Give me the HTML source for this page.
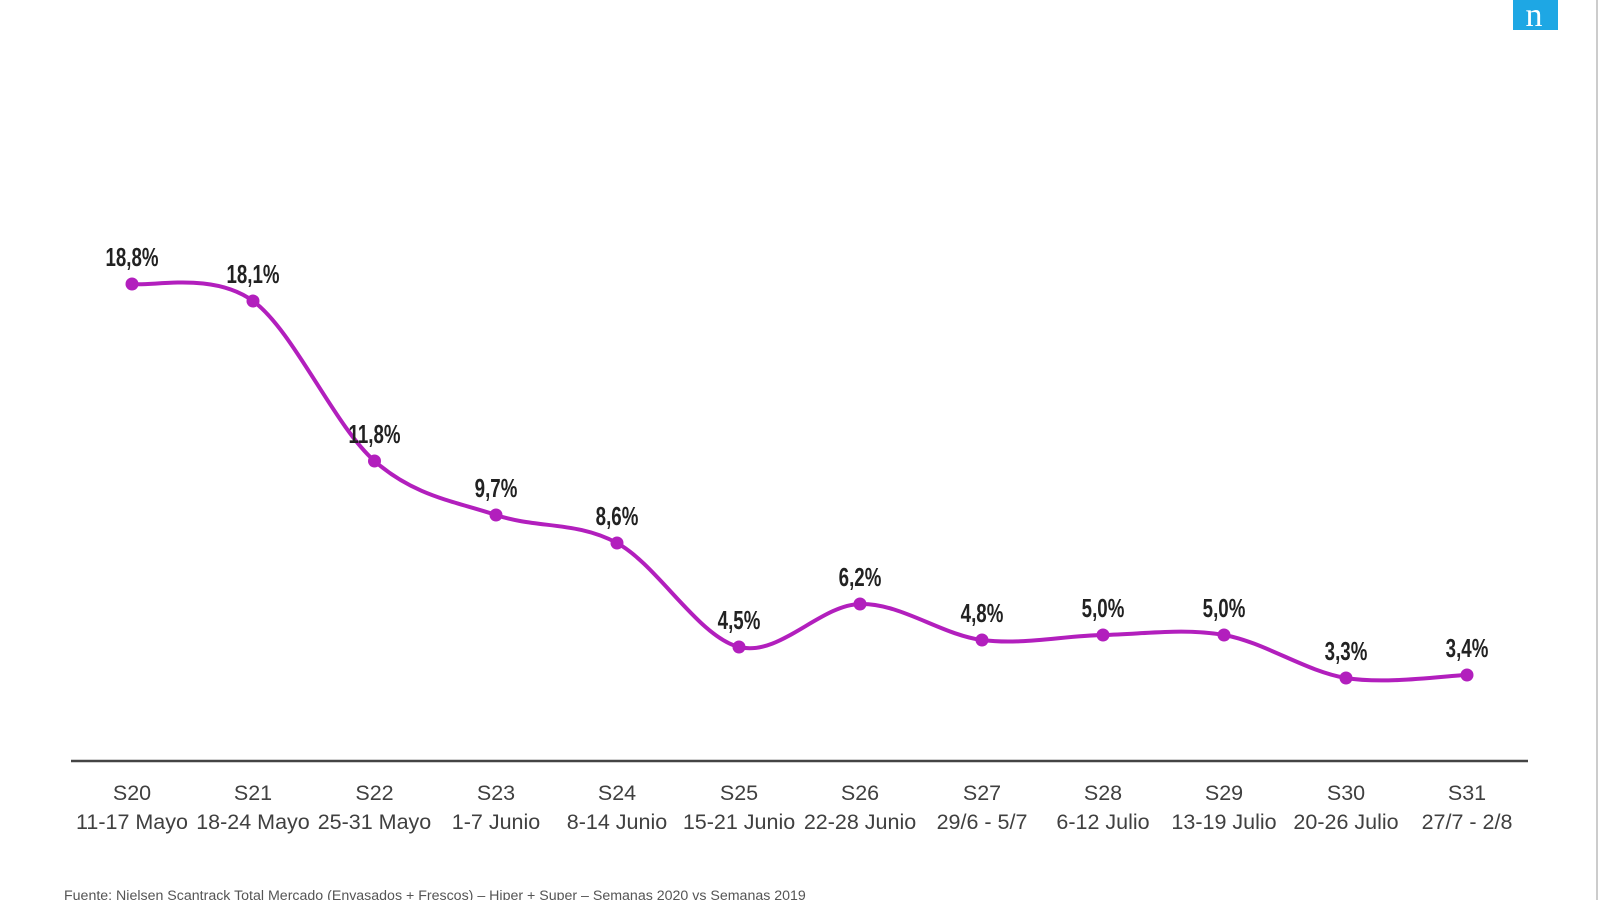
<!DOCTYPE html>
<html><head><meta charset="utf-8"><style>
html,body{margin:0;padding:0;background:#fff;width:1600px;height:900px;overflow:hidden}
svg{display:block}
.v{font-family:"Liberation Sans Narrow","Liberation Sans",sans-serif;font-size:26px;font-weight:bold;fill:#222;}
.a{font-family:"Liberation Sans",sans-serif;font-size:21.5px;fill:#404040;}
</style></head><body>
<svg id="s" width="1600" height="900" xmlns="http://www.w3.org/2000/svg">
<rect x="1513" y="0" width="45" height="30" fill="#1ea7e4"/>
<text x="1534" y="26" text-anchor="middle" font-family="Liberation Serif,serif" font-size="34" fill="#fff">n</text>
<line x1="1597" y1="0" x2="1597" y2="900" stroke="#ccc" stroke-width="2"/>
<line x1="71" y1="761" x2="1528" y2="761" stroke="#444" stroke-width="2.5"/>
<path id="p" d="" fill="none" stroke="#b21fbd" stroke-width="4"/>
<g id="g"></g>
<text x="64" y="900" font-family="Liberation Sans,sans-serif" font-size="14.2" fill="#555">Fuente: Nielsen Scantrack Total Mercado (Envasados + Frescos) – Hiper + Super – Semanas 2020 vs Semanas 2019</text>
</svg>
<script>
var xs=[132,253,374.5,496,617,739,860,982,1103,1224,1346,1467];
var ys=[284,301,461,515,543,647,604,640,635,635,678,675];
var vals=["18,8%","18,1%","11,8%","9,7%","8,6%","4,5%","6,2%","4,8%","5,0%","5,0%","3,3%","3,4%"];
var s1=["S20","S21","S22","S23","S24","S25","S26","S27","S28","S29","S30","S31"];
var s2=["11-17 Mayo","18-24 Mayo","25-31 Mayo","1-7 Junio","8-14 Junio","15-21 Junio","22-28 Junio","29/6 - 5/7","6-12 Julio","13-19 Julio","20-26 Julio","27/7 - 2/8"];
var d="M"+xs[0]+","+ys[0];
for(var i=0;i<xs.length-1;i++){
 var x0=xs[Math.max(i-1,0)],y0=ys[Math.max(i-1,0)],x1=xs[i],y1=ys[i],x2=xs[i+1],y2=ys[i+1],x3=xs[Math.min(i+2,xs.length-1)],y3=ys[Math.min(i+2,xs.length-1)];
 var t=6;
 d+=" C"+(x1+(x2-x0)/t)+","+(y1+(y2-y0)/t)+" "+(x2-(x3-x1)/t)+","+(y2-(y3-y1)/t)+" "+x2+","+y2;
}
document.getElementById("p").setAttribute("d",d);
var h="";
for(var i=0;i<xs.length;i++){
 h+='<circle cx="'+xs[i]+'" cy="'+ys[i]+'" r="6.5" fill="#b21fbd"/>';
 h+='<text class="v" text-anchor="middle" transform="translate('+xs[i]+','+(ys[i]-18)+') scale(0.72,1)">'+vals[i]+'</text>';
 h+='<text class="a" text-anchor="middle" x="'+xs[i]+'" y="800">'+s1[i]+'</text>';
 h+='<text class="a" text-anchor="middle" x="'+xs[i]+'" y="829">'+s2[i]+'</text>';
}
document.getElementById("g").innerHTML=h;
</script>
</body></html>
